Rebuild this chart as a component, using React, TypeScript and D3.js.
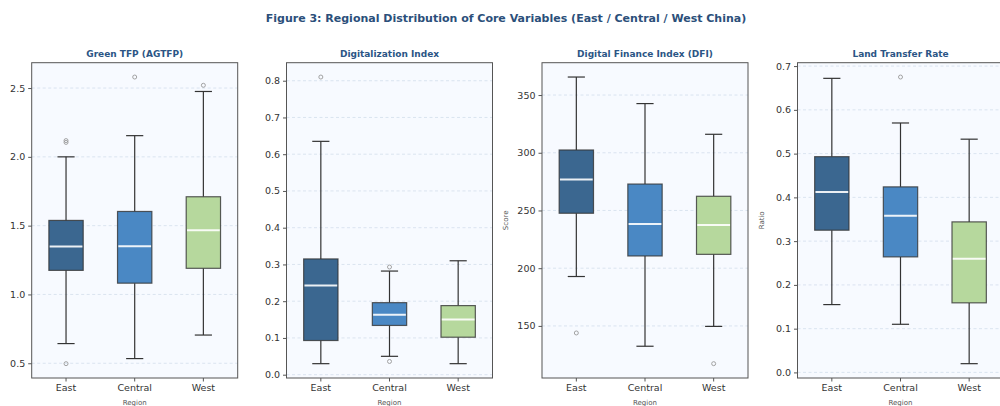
import * as d3 from 'd3';
import { useEffect, useRef } from 'react';

const regions = ['East', 'Central', 'West'];
const regionColors = ['#3b6790', '#4a88c4', '#b6d89d'];

const panelTitles = ['Green TFP (AGTFP)', 'Digitalization Index', 'Digital Finance Index (DFI)', 'Land Transfer Rate'];
const panelYLabels = ['', '', 'Score', 'Ratio'];

// [whiskerLow, q1, median, q3, whiskerHigh] per region
const agtfpStats = [
  [0.643, 1.175, 1.349, 1.538, 2.0],
  [0.534, 1.082, 1.35, 1.603, 2.154],
  [0.705, 1.19, 1.467, 1.71, 2.475],
];
const agtfpOutliers = [[2.105, 2.118, 0.497], [2.58], [2.52]];
const agtfpTicks = [0.5, 1.0, 1.5, 2.0, 2.5];

const digiStats = [
  [0.03, 0.093, 0.243, 0.315, 0.635],
  [0.05, 0.134, 0.163, 0.196, 0.282],
  [0.03, 0.102, 0.15, 0.188, 0.31],
];
const digiOutliers = [[0.81], [0.293, 0.036], []];
const digiTicks = [0.0, 0.1, 0.2, 0.3, 0.4, 0.5, 0.6, 0.7, 0.8];

const dfiStats = [
  [192.8, 247.6, 276.8, 302.4, 365.6],
  [132.4, 210.6, 238.3, 272.9, 342.6],
  [149.6, 212.0, 237.4, 262.3, 316.0],
];
const dfiOutliers = [[143.9], [], [117.3]];
const dfiTicks = [150, 200, 250, 300, 350];

const landStats = [
  [0.155, 0.325, 0.412, 0.493, 0.672],
  [0.11, 0.264, 0.358, 0.424, 0.57],
  [0.02, 0.159, 0.26, 0.344, 0.533],
];
const landOutliers = [[], [0.675], []];
const landTicks = [0.0, 0.1, 0.2, 0.3, 0.4, 0.5, 0.6, 0.7];

const panelStats = [agtfpStats, digiStats, dfiStats, landStats];
const panelOutliers = [agtfpOutliers, digiOutliers, dfiOutliers, landOutliers];
const panelTicks = [agtfpTicks, digiTicks, dfiTicks, landTicks];
const panelFormats = ['.1f', '.1f', 'd', '.1f'];

const App: React.FC = () => {
  const ref = useRef<SVGSVGElement>(null);

  useEffect(() => {
    document.body.style.margin = '0';
    const svg = d3.select(ref.current);
    svg.selectAll('*').remove();
    const font = 'DejaVu Sans, sans-serif';

    svg
      .append('text')
      .attr('x', 506)
      .attr('y', 22)
      .attr('text-anchor', 'middle')
      .style('font-family', font)
      .style('font-size', '11px')
      .style('font-weight', 'bold')
      .style('fill', '#2b4f7a')
      .text('Figure 3: Regional Distribution of Core Variables (East / Central / West China)');

    const panelLeft = [31.7, 286.5, 542, 797.5];
    const panelW = 206;
    const top = 62.7,
      bottom = 378;

    panelStats.forEach((stats, p) => {
      const outliers = panelOutliers[p];
      const all = stats.flat().concat(outliers.flat());
      const lo = d3.min(all) as number,
        hi = d3.max(all) as number;
      const pad = (hi - lo) * 0.05;
      const y = d3.scaleLinear().domain([lo - pad, hi + pad]).range([bottom, top]);
      const x = d3.scaleBand().domain(regions).range([0, panelW]).padding(0);
      const bw = x.bandwidth() * 0.5;

      const g = svg.append('g').attr('transform', `translate(${panelLeft[p]},0)`);

      g.append('rect')
        .attr('x', 0)
        .attr('y', top)
        .attr('width', panelW)
        .attr('height', bottom - top)
        .attr('fill', '#f7faff');

      // grid
      g.selectAll('.grid')
        .data(panelTicks[p])
        .enter()
        .append('line')
        .attr('x1', 0)
        .attr('x2', panelW)
        .attr('y1', (d) => y(d))
        .attr('y2', (d) => y(d))
        .attr('stroke', '#d3deec')
        .attr('stroke-width', 0.8)
        .attr('stroke-dasharray', '3,2.5');

      const box = g
        .selectAll('.box')
        .data(stats)
        .enter()
        .append('g')
        .attr('transform', (d, i) => `translate(${(x(regions[i]) as number) + x.bandwidth() / 2},0)`);

      // whiskers
      box.append('line')
        .attr('y1', (d) => y(d[0]))
        .attr('y2', (d) => y(d[1]))
        .attr('stroke', '#333')
        .attr('stroke-width', 1.2);
      box.append('line')
        .attr('y1', (d) => y(d[3]))
        .attr('y2', (d) => y(d[4]))
        .attr('stroke', '#333')
        .attr('stroke-width', 1.2);
      // caps
      [0, 4].forEach((k) => {
        box.append('line')
          .attr('x1', -bw / 4)
          .attr('x2', bw / 4)
          .attr('y1', (d) => y(d[k]))
          .attr('y2', (d) => y(d[k]))
          .attr('stroke', '#333')
          .attr('stroke-width', 1.2);
      });
      // box
      box.append('rect')
        .attr('x', -bw / 2)
        .attr('width', bw)
        .attr('y', (d) => y(d[3]))
        .attr('height', (d) => y(d[1]) - y(d[3]))
        .attr('fill', (d, i) => regionColors[i])
        .attr('stroke', '#333')
        .attr('stroke-opacity', 0.8)
        .attr('stroke-width', 1.2);
      // median
      box.append('line')
        .attr('x1', -bw / 2 + 0.8)
        .attr('x2', bw / 2 - 0.8)
        .attr('y1', (d) => y(d[2]))
        .attr('y2', (d) => y(d[2]))
        .attr('stroke', '#ffffff')
        .attr('stroke-opacity', 0.9)
        .attr('stroke-width', 2);

      // outliers
      outliers.forEach((pts, i) => {
        g.selectAll(null)
          .data(pts)
          .enter()
          .append('circle')
          .attr('cx', (x(regions[i]) as number) + x.bandwidth() / 2)
          .attr('cy', (d) => y(d))
          .attr('r', 2)
          .attr('fill', 'none')
          .attr('stroke', '#999')
          .attr('stroke-width', 0.9);
      });

      // frame
      g.append('rect')
        .attr('x', 0)
        .attr('y', top)
        .attr('width', panelW)
        .attr('height', bottom - top)
        .attr('fill', 'none')
        .attr('stroke', '#555')
        .attr('stroke-width', 1);

      // y axis
      const yAxis = g
        .append('g')
        .call(d3.axisLeft(y).tickValues(panelTicks[p]).tickFormat(d3.format(panelFormats[p]) as any).tickSize(3.5).tickPadding(3));
      yAxis.select('.domain').remove();
      yAxis.selectAll('line').attr('stroke', '#555');
      yAxis.selectAll('text').style('font-family', font).style('font-size', '9.5px').style('fill', '#333');

      // x axis
      const xAxis = g
        .append('g')
        .attr('transform', `translate(0,${bottom})`)
        .call(d3.axisBottom(x).tickSize(3.5).tickPadding(3));
      xAxis.select('.domain').remove();
      xAxis.selectAll('line').attr('stroke', '#555');
      xAxis.selectAll('text').style('font-family', font).style('font-size', '9.5px').style('fill', '#333');

      g.append('text')
        .attr('x', panelW / 2)
        .attr('y', 405)
        .attr('text-anchor', 'middle')
        .style('font-family', font)
        .style('font-size', '7px')
        .style('fill', '#555')
        .text('Region');

      if (panelYLabels[p]) {
        g.append('text')
          .attr('transform', `translate(-34,${(top + bottom) / 2}) rotate(-90)`)
          .attr('text-anchor', 'middle')
          .style('font-family', font)
          .style('font-size', '7px')
          .style('fill', '#555')
          .text(panelYLabels[p]);
      }

      g.append('text')
        .attr('x', panelW / 2)
        .attr('y', 57)
        .attr('text-anchor', 'middle')
        .style('font-family', font)
        .style('font-size', '9px')
        .style('font-weight', 'bold')
        .style('fill', '#2b5585')
        .text(panelTitles[p]);
    });
  }, []);

  return <svg ref={ref} width={1000} height={406} style={{ display: 'block' }}></svg>;
};

export default App;
